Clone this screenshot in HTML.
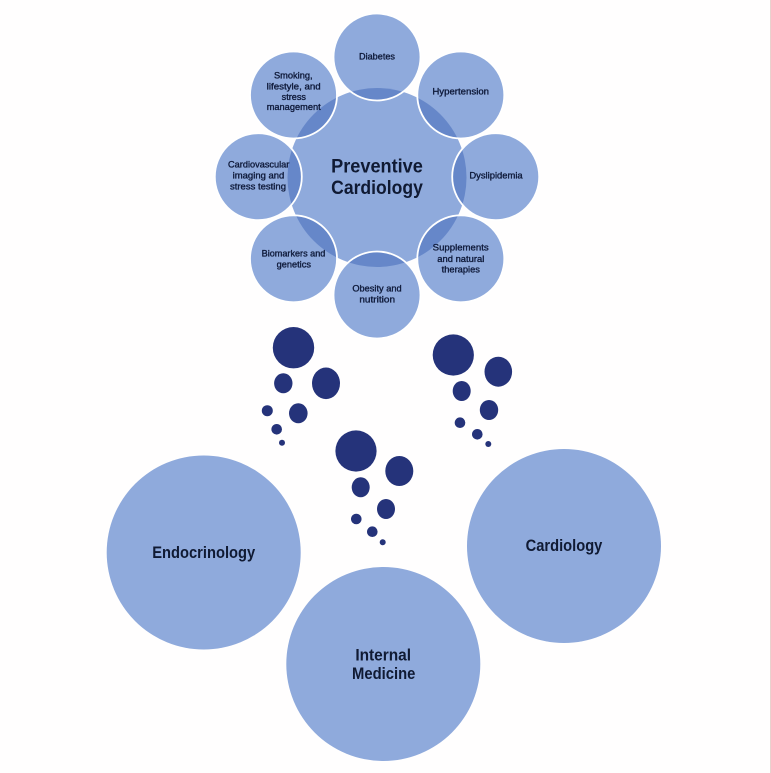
<!DOCTYPE html>
<html><head><meta charset="utf-8"><style>
html,body{margin:0;padding:0;background:#fff;}
body{width:771px;height:773px;overflow:hidden;}
svg{display:block;}
text{font-family:"Liberation Sans",Arial,sans-serif;}
.s{font-size:9.5px;fill:#0f1a3a;stroke:#0f1a3a;stroke-width:0.35px;text-anchor:middle;}
.b{font-weight:bold;fill:#101a33;text-anchor:middle;}
</style></head><body>
<svg width="771" height="773" viewBox="0 0 771 773" xmlns="http://www.w3.org/2000/svg">
<rect x="0" y="0" width="771" height="773" fill="#fffefe"/>
<line x1="770.5" y1="0" x2="770.5" y2="773" stroke="#e8d2ce" stroke-width="1"/>
<defs>
<clipPath id="cc"><circle cx="377" cy="177.5" r="89.5"/></clipPath>
</defs>
<g fill="#8faadc">
<circle cx="377" cy="57" r="43.5"/>
<circle cx="460.8" cy="95" r="43.5"/>
<circle cx="495.7" cy="176.7" r="43.5"/>
<circle cx="460.8" cy="258.8" r="43.5"/>
<circle cx="377" cy="295" r="43.5"/>
<circle cx="293.5" cy="258.8" r="43.5"/>
<circle cx="258.3" cy="176.7" r="43.5"/>
<circle cx="293.5" cy="95" r="43.5"/>
<circle cx="377" cy="177.5" r="89.5"/>
</g>
<g fill="#6687c9" clip-path="url(#cc)">
<circle cx="377" cy="57" r="43.5"/>
<circle cx="460.8" cy="95" r="43.5"/>
<circle cx="495.7" cy="176.7" r="43.5"/>
<circle cx="460.8" cy="258.8" r="43.5"/>
<circle cx="377" cy="295" r="43.5"/>
<circle cx="293.5" cy="258.8" r="43.5"/>
<circle cx="258.3" cy="176.7" r="43.5"/>
<circle cx="293.5" cy="95" r="43.5"/>
</g>
<g fill="none" stroke="#ffffff" stroke-width="1.8">
<circle cx="377" cy="57" r="43.5"/>
<circle cx="460.8" cy="95" r="43.5"/>
<circle cx="495.7" cy="176.7" r="43.5"/>
<circle cx="460.8" cy="258.8" r="43.5"/>
<circle cx="377" cy="295" r="43.5"/>
<circle cx="293.5" cy="258.8" r="43.5"/>
<circle cx="258.3" cy="176.7" r="43.5"/>
<circle cx="293.5" cy="95" r="43.5"/>
</g>

<text class="b" x="377" y="172.7" font-size="19" textLength="91.7" lengthAdjust="spacingAndGlyphs">Preventive</text>
<text class="b" x="377" y="194" font-size="19" textLength="91.7" lengthAdjust="spacingAndGlyphs">Cardiology</text>

<text class="s" x="377" y="59.5" textLength="36" lengthAdjust="spacingAndGlyphs">Diabetes</text>
<text class="s" x="460.7" y="94.3" textLength="56.7" lengthAdjust="spacingAndGlyphs">Hypertension</text>
<text class="s" x="496" y="178.3" textLength="53.3" lengthAdjust="spacingAndGlyphs">Dyslipidemia</text>
<text class="s" x="460.7" y="250.7" textLength="56" lengthAdjust="spacingAndGlyphs">Supplements</text>
<text class="s" x="460.8" y="262" textLength="47" lengthAdjust="spacingAndGlyphs">and natural</text>
<text class="s" x="460.8" y="272.7" textLength="38.3" lengthAdjust="spacingAndGlyphs">therapies</text>
<text class="s" x="377" y="291.7" textLength="49.3" lengthAdjust="spacingAndGlyphs">Obesity and</text>
<text class="s" x="377.2" y="302.7" textLength="35.7" lengthAdjust="spacingAndGlyphs">nutrition</text>
<text class="s" x="293.5" y="256.7" textLength="63.7" lengthAdjust="spacingAndGlyphs">Biomarkers and</text>
<text class="s" x="293.8" y="267.7" textLength="34.3" lengthAdjust="spacingAndGlyphs">genetics</text>
<text class="s" x="258.7" y="167.3" textLength="61.3" lengthAdjust="spacingAndGlyphs">Cardiovascular</text>
<text class="s" x="258.5" y="178.3" textLength="51.7" lengthAdjust="spacingAndGlyphs">imaging and</text>
<text class="s" x="258" y="189.3" textLength="56" lengthAdjust="spacingAndGlyphs">stress testing</text>
<text class="s" x="293.3" y="78.3" textLength="38.7" lengthAdjust="spacingAndGlyphs">Smoking,</text>
<text class="s" x="293.7" y="89.3" textLength="54" lengthAdjust="spacingAndGlyphs">lifestyle, and</text>
<text class="s" x="293.8" y="100" textLength="24.3" lengthAdjust="spacingAndGlyphs">stress</text>
<text class="s" x="293.7" y="110" textLength="54" lengthAdjust="spacingAndGlyphs">management</text>

<g fill="#25337a">
<circle cx="293.5" cy="347.7" r="20.7"/>
<ellipse cx="283.3" cy="383.3" rx="9.2" ry="10"/>
<ellipse cx="326" cy="383.3" rx="14" ry="15.8"/>
<ellipse cx="298.3" cy="413.3" rx="9.3" ry="10"/>
<circle cx="267.3" cy="410.7" r="5.5"/>
<circle cx="276.7" cy="429.3" r="5.3"/>
<circle cx="282" cy="442.7" r="3"/>

<circle cx="453.3" cy="355" r="20.6"/>
<ellipse cx="498.3" cy="371.7" rx="13.8" ry="15"/>
<ellipse cx="461.7" cy="391" rx="9" ry="10"/>
<ellipse cx="489" cy="410" rx="9.2" ry="10"/>
<circle cx="460" cy="422.7" r="5.3"/>
<circle cx="477.3" cy="434.3" r="5.3"/>
<circle cx="488.3" cy="444" r="3"/>

<circle cx="356" cy="451" r="20.6"/>
<ellipse cx="399.3" cy="471" rx="14" ry="15"/>
<ellipse cx="360.7" cy="487.3" rx="9" ry="10"/>
<ellipse cx="386" cy="509" rx="9" ry="10"/>
<circle cx="356.3" cy="519" r="5.3"/>
<circle cx="372.3" cy="531.7" r="5.3"/>
<circle cx="382.7" cy="542.3" r="3"/>
</g>

<g fill="#8faadc">
<circle cx="203.7" cy="552.5" r="97"/>
<circle cx="383.3" cy="664" r="97"/>
<circle cx="564" cy="546" r="97"/>
</g>
<text class="b" x="203.7" y="558" font-size="16.5" textLength="103" lengthAdjust="spacingAndGlyphs">Endocrinology</text>
<text class="b" x="564" y="551" font-size="16.5" textLength="76.7" lengthAdjust="spacingAndGlyphs">Cardiology</text>
<text class="b" x="383.2" y="660.7" font-size="16.5" textLength="55.7" lengthAdjust="spacingAndGlyphs">Internal</text>
<text class="b" x="383.7" y="679" font-size="16.5" textLength="63.3" lengthAdjust="spacingAndGlyphs">Medicine</text>
</svg>
</body></html>
